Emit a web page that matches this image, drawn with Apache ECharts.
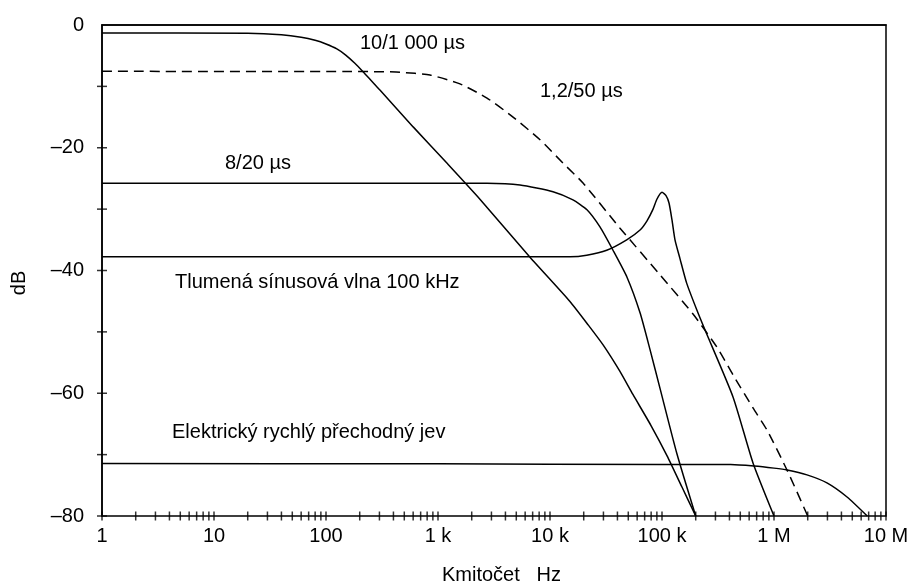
<!DOCTYPE html>
<html>
<head>
<meta charset="utf-8">
<script src="https://cdn.jsdelivr.net/npm/echarts@6/dist/echarts.min.js"></script>
<style>
html,body{margin:0;padding:0;background:#fff;}
#c{width:914px;height:586px;}
</style>
</head>
<body>
<div id="c"></div>
<script>
// ---- data (frequency in Hz, level in dB) ----
const s10_1000 = [[1,-1.3],[20,-1.35],[40,-1.6],[60,-2.0],[80,-2.5],[100,-3.1],[125,-3.9],[150,-4.9],[180,-6.2],[214,-7.6],[260,-9.3],[303,-10.6],[600,-16.6],[1200,-22.5],[2400,-28.5],[6600,-37.8],[15000,-45.0],[22000,-48.9],[30000,-52.2],[42000,-56.4],[55000,-60.2],[80000,-65.3],[111000,-70.2],[150000,-75.2],[200000,-80]];
const s1_2_50 = [[1,-7.55],[300,-7.6],[458,-7.7],[848,-8.15],[1572,-9.6],[2738,-11.9],[4677,-15.0],[8147,-18.7],[13060,-22.5],[19720,-25.75],[42170,-33.1],[96000,-40.7],[189200,-47.1],[309700,-52.5],[430500,-57.0],[649400,-62.4],[866000,-66.0],[1306000,-72.5],[2000000,-80]];
const s8_20 = [[1,-25.8],[2738,-25.8],[5395,-26.07],[10640,-27.16],[16040,-28.5],[21390,-30.1],[27930,-32.9],[36520,-36.7],[48700,-41.1],[63680,-46.9],[78180,-52.9],[96000,-59.2],[136100,-69.9],[200000,-80]];
const sDamped = [[1,-37.75],[15090,-37.75],[21270,-37.5],[32100,-36.7],[48400,-35.0],[63680,-33.4],[73480,-31.9],[83220,-30.0],[90250,-28.35],[100000,-27.25],[108600,-27.8],[115500,-29.0],[122900,-31.8],[130600,-35.0],[144900,-38.1],[166300,-42.1],[204300,-46.4],[242300,-49.7],[430500,-60.6],[649400,-71.35],[1000000,-80]];
const sEFT = [[1,-71.45],[1000,-71.5],[100000,-71.6],[410000,-71.6],[662000,-71.85],[1000000,-72.2],[1310000,-72.5],[1970000,-73.3],[2970000,-74.6],[4490000,-76.9],[6800000,-80]];

const xTickLabels = {1:'1',10:'10',100:'100',1000:'1 k',10000:'10 k',100000:'100 k',1000000:'1 M',10000000:'10 M'};
const xTickMantissas = [1,2,3,4,5,6,7,8,9];
const xTickDecades = [1,10,100,1000,10000,100000,1000000];
const yTickValues = [-80,-70,-60,-50,-40,-30,-20,-10];

const labels = {
  s10_1000: '10/1 000 µs',
  s1_2_50: '1,2/50 µs',
  s8_20: '8/20 µs',
  damped: 'Tlumená sínusová vlna 100 kHz',
  eft: 'Elektrický rychlý přechodný jev',
  xName: 'Kmitočet   Hz',
  yName: 'dB'
};

// tick mark positions (drawn through the library's scales)
const xTickData = [];
xTickDecades.forEach(d => xTickMantissas.forEach(m => xTickData.push([d*m, -80])));
xTickData.push([10000000, -80]);
const yTickData = yTickValues.map(v => [1, v]);

const FONT = '"Liberation Sans", Arial, sans-serif';
const chart = echarts.init(document.getElementById('c'), null, {renderer:'canvas'});

const lineBase = {type:'line', symbol:'none', smooth:0.2, silent:true, z:3,
  lineStyle:{color:'#000', width:1.5}};

function txt(x, y, s, extra){
  return Object.assign({type:'text', x:x, y:y, silent:true,
    style:{text:s, font:'20px '+FONT, fill:'#000', verticalAlign:'middle'}}, extra||{});
}

const option = {
  backgroundColor:'#fff',
  animation:false,
  grid:{left:102, right:28, top:25, bottom:70, show:true, borderColor:'#000', borderWidth:1.5, backgroundColor:'transparent'},
  xAxis:{
    type:'log', logBase:10, min:1, max:10000000, splitNumber:7,
    axisLine:{show:true, lineStyle:{color:'#000', width:1.5}},
    axisTick:{show:false},
    splitLine:{show:false},
    axisLabel:{color:'#000', fontFamily:FONT, fontSize:20, margin:10, showMinLabel:true, showMaxLabel:true,
      formatter: v => xTickLabels[Math.round(v)] !== undefined ? xTickLabels[Math.round(v)] : ''}
  },
  yAxis:{
    type:'value', min:-80, max:0, interval:20,
    axisLine:{show:true, lineStyle:{color:'#000', width:1.5}},
    axisTick:{show:false},
    splitLine:{show:false},
    axisLabel:{color:'#000', fontFamily:FONT, fontSize:20, margin:18,
      formatter: v => v < 0 ? '\u2013' + Math.abs(v) : String(v)}
  },
  graphic:[
    txt(360, 43, labels.s10_1000),
    txt(540, 91, labels.s1_2_50),
    txt(225, 163, labels.s8_20),
    txt(175, 282, labels.damped),
    txt(172, 432, labels.eft),
    txt(442, 575, labels.xName),
    {type:'text', x:19, y:283, rotation:Math.PI/2, silent:true,
      style:{text:labels.yName, font:'20px '+FONT, fill:'#000', align:'center', verticalAlign:'middle'}}
  ],
  series:[
    Object.assign({}, lineBase, {name:labels.s10_1000, data:s10_1000}),
    Object.assign({}, lineBase, {name:labels.s1_2_50, data:s1_2_50, lineStyle:{color:'#000', width:1.5, type:[10,6]}}),
    Object.assign({}, lineBase, {name:labels.s8_20, data:s8_20}),
    Object.assign({}, lineBase, {name:labels.damped, data:sDamped}),
    Object.assign({}, lineBase, {name:labels.eft, data:sEFT}),
    {type:'scatter', name:'xticks', data:xTickData, symbol:'rect', symbolSize:[1.5,9], clip:false, silent:true,
      itemStyle:{color:'#000'}, z:4},
    {type:'scatter', name:'yticks', data:yTickData, symbol:'rect', symbolSize:[10,1.5], clip:false, silent:true,
      itemStyle:{color:'#000'}, z:4}
  ]
};
chart.setOption(option);
</script>
</body>
</html>
